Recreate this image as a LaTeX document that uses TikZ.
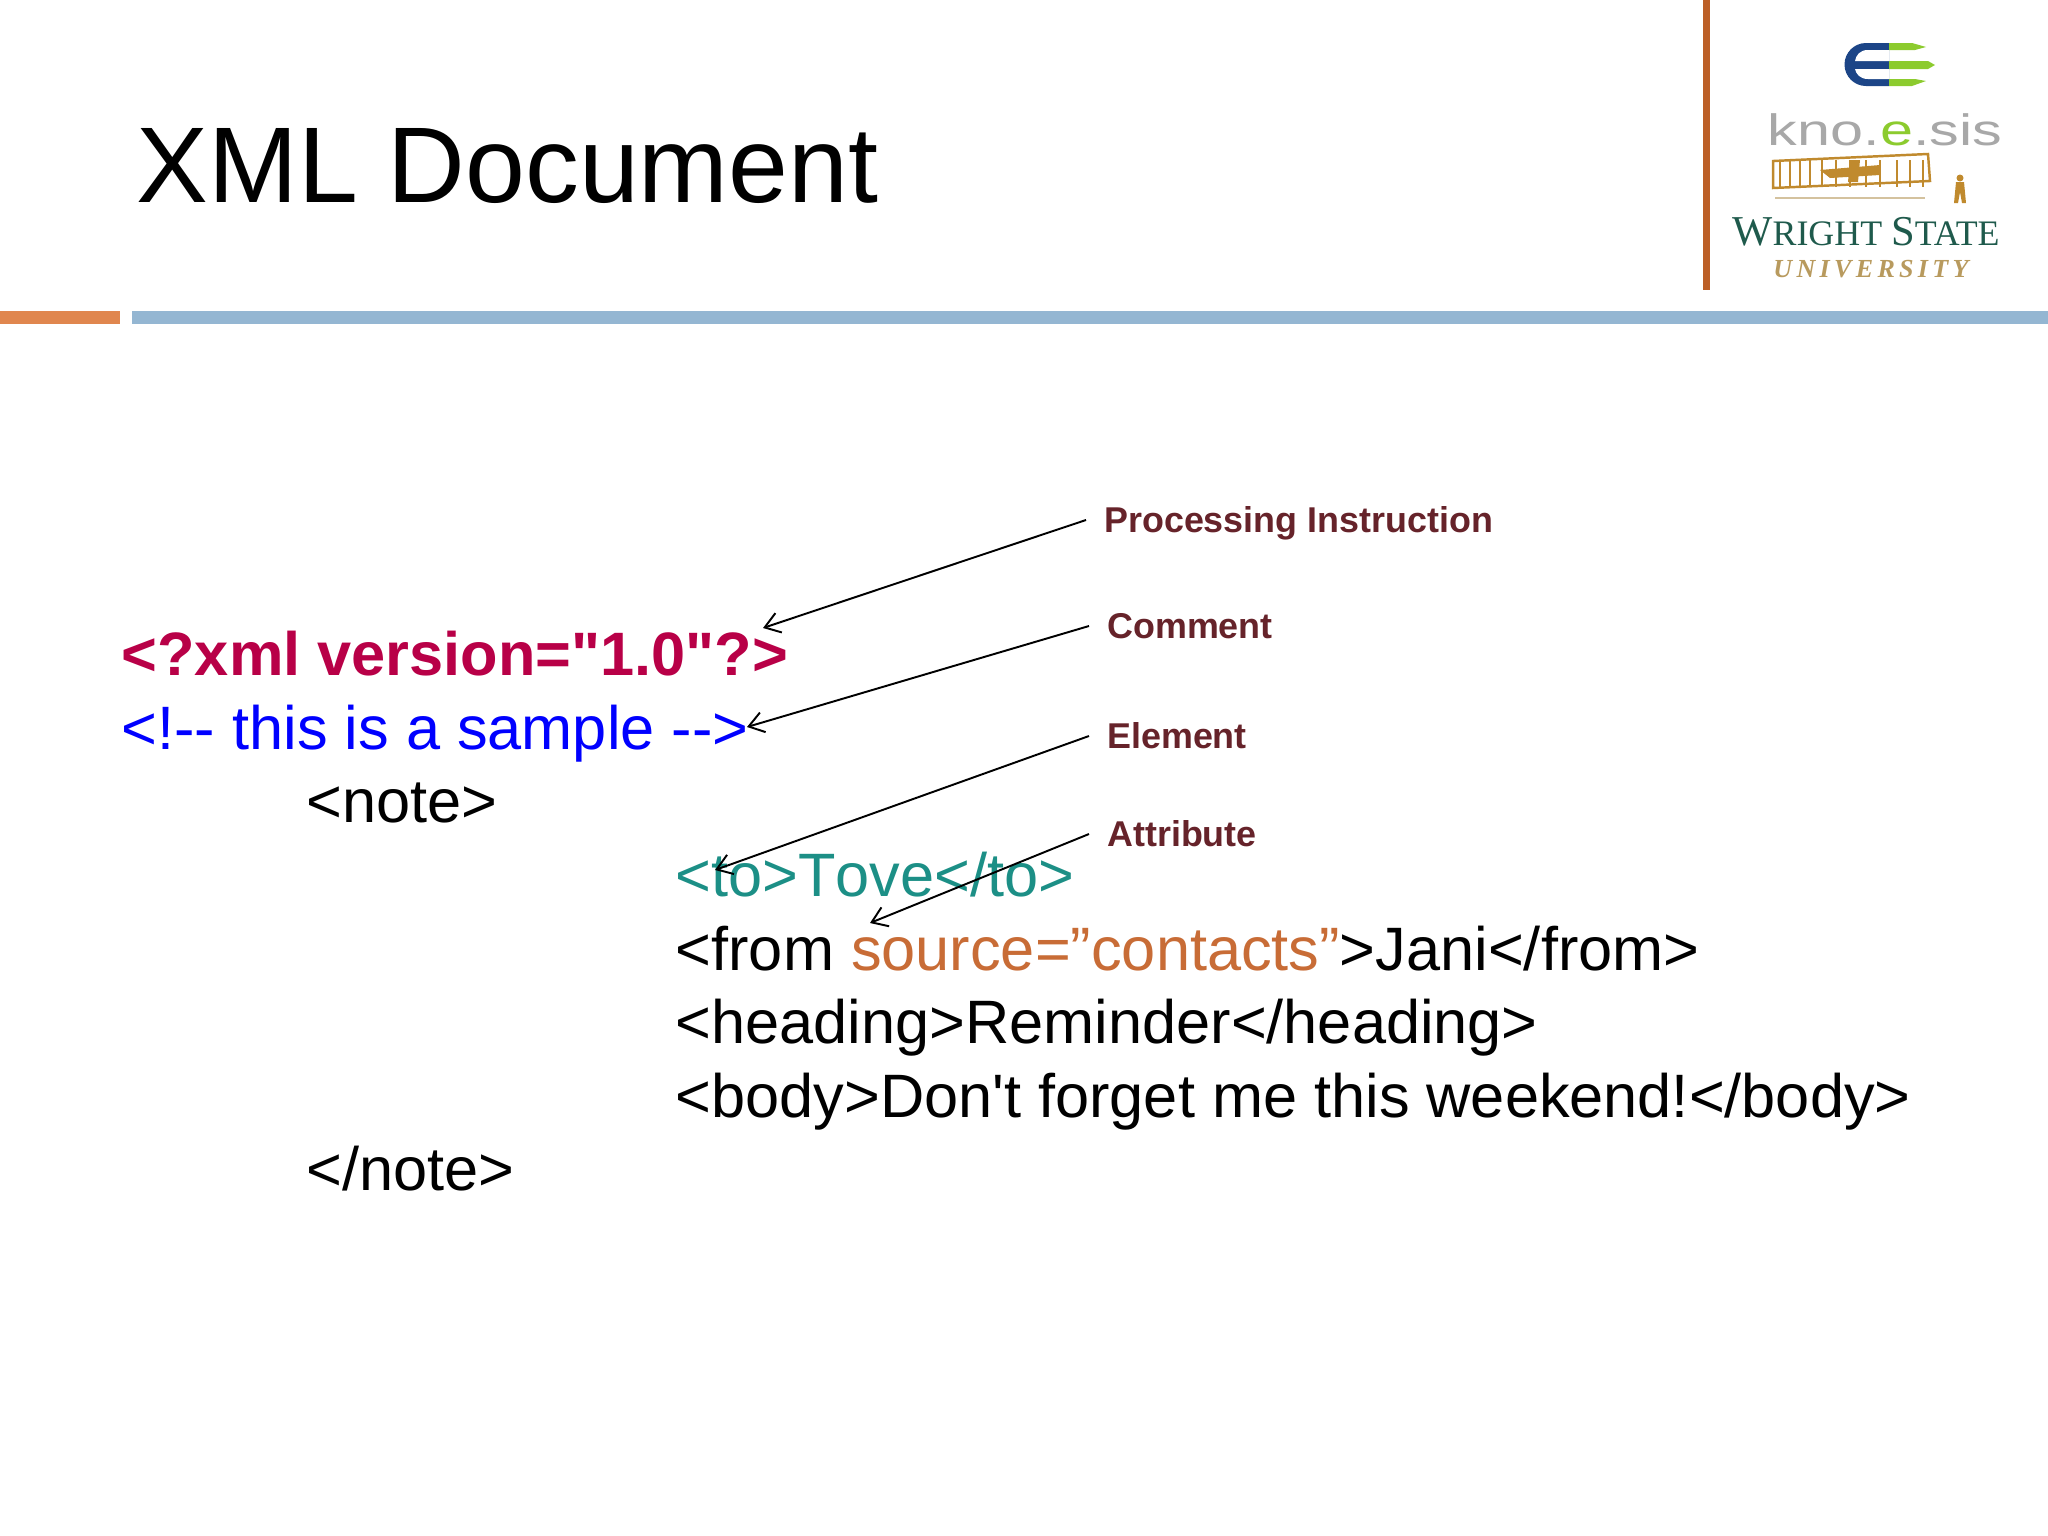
\documentclass[tikz,border=0pt]{standalone}
\usepackage{fontspec}
\setmainfont{Liberation Sans}
\newfontfamily\codeface[Kerning=Off]{Liberation Sans}
\newfontfamily\serifface{Liberation Serif}
\usetikzlibrary{arrows.meta}
\definecolor{ruleorange}{HTML}{E0864E}
\definecolor{ruleblue}{HTML}{94B6D2}
\definecolor{barorange}{HTML}{BC5F27}
\definecolor{pired}{HTML}{B80047}
\definecolor{elemteal}{HTML}{1C8F86}
\definecolor{attrorange}{HTML}{C86C36}
\definecolor{labelred}{HTML}{66232A}
\definecolor{logoblue}{HTML}{1C4587}
\definecolor{logogreen}{HTML}{8CCB2E}
\definecolor{logogray}{HTML}{A8A8A8}
\definecolor{planeochre}{HTML}{C08A2E}
\definecolor{wsugreen}{HTML}{1F5A4C}
\definecolor{wsugold}{HTML}{B89A5E}
\tikzset{%
  >={Straight Barb[length=4.2pt,width=5.8pt]},
  codeline/.style={anchor=base west,inner sep=0pt,font=\codeface\fontsize{17.43}{21}\selectfont},
  titletext/.style={anchor=base west,inner sep=0pt,font=\fontsize{30.6}{36}\selectfont},
  partlabel/.style={anchor=west,inner ysep=0pt,inner xsep=5pt,text=labelred,
    text height=8.7pt,text depth=0.25ex,font=\fontsize{10.2}{12}\selectfont\bfseries},
  partarrow/.style={->,line width=0.55pt,black}
}

\begin{document}
\begin{tikzpicture}[x=0.01cm,y=-0.01cm]
\useasboundingbox (0,0) rectangle (2048,1536);

%% some definitions

\def\xA{121} % left edge of the prolog
\def\xB{306} % note
\def\xC{675} % children of note

%% title and rules

\node[titletext] (title) at (136,202) {XML Document};
\fill[ruleorange] (0,311) rectangle (120,324);
\fill[ruleblue] (132,311) rectangle (2048,324);
\fill[barorange] (1703,0) rectangle (1710,290);

%% logo

\fill[logoblue] (1889,43) -- (1866,43) arc (-90:-270:21.5) -- (1889,86) -- cycle;
\fill[white] (1889,50) -- (1868,50) .. controls (1860,50) and (1856,55) .. (1855,61)
    -- (1889,61) -- cycle;
\fill[white] (1889,79) -- (1868,79) .. controls (1860,79) and (1856,74) .. (1855,69)
    -- (1889,69) -- cycle;
\fill[logogreen] (1889,43) -- (1912,43) -- (1926,47) -- (1915,50) -- (1889,50) -- cycle;
\fill[logogreen] (1889,61) -- (1928,61) -- (1935,65) -- (1928,69) -- (1889,69) -- cycle;
\fill[logogreen] (1889,79) -- (1915,79) -- (1926,81) -- (1912,86) -- (1889,86) -- cycle;
\node[anchor=base,inner sep=0pt,text=logogray,xscale=1.35,font=\fontsize{12.5}{14}\selectfont]
    (knoesis) at (1885,145) {kno.\textcolor{logogreen}{e}.sis};
% plane
\begin{scope}[planeochre,line width=0.7pt]
\draw (1773,161) -- (1928,154) -- (1930,181) -- (1773,188) -- cycle;
\foreach \x in {1780,1790,1800,1810,1822,1836,1850,1866,1880,1897,1910,1923}
  \draw[line width=0.45pt] (\x,160) -- (\x,187);
\fill (1820,170) -- (1880,165) -- (1880,175) -- (1830,178) -- cycle;
\fill (1850,160) -- (1860,160) -- (1858,182) -- (1848,182) -- cycle;
\draw[line width=0.4pt,wsugold!60] (1775,198) -- (1925,198);
\fill (1960,178) circle (3.5);
\fill (1956,182) -- (1964,182) -- (1966,203) -- (1962,203) -- (1960,192) -- (1958,203) -- (1954,203) -- cycle;
\end{scope}
\node[anchor=base,inner sep=0pt,text=wsugreen,font=\serifface\fontsize{12.1}{14}\selectfont]
    (wright) at (1866,245) {W\fontsize{10.2}{14}\selectfont RIGHT \fontsize{12.1}{14}\selectfont S\fontsize{10.2}{14}\selectfont TATE};
\node[anchor=base,inner sep=0pt,text=wsugold,font=\serifface\itshape\bfseries\fontsize{7.4}{10}\selectfont]
    (university) at (1871,277) {U\,N\,I\,V\,E\,R\,S\,I\,T\,Y};

%% code lines

\node[codeline,text=pired,font=\codeface\fontsize{17.43}{21}\selectfont\bfseries] (prolog) at (\xA,675) {<?xml version="1.0"?>};
\node[codeline,text=blue] (comment) at (\xA,749) {<!-- this is a sample -->};
\node[codeline] (noteopen) at (\xB,822) {<note>};
\node[codeline,text=elemteal] (to) at (\xC,896) {<to>Tove</to>};
\node[codeline] (from) at (\xC,970) {<from \textcolor{attrorange}{source=”contacts”}>Jani</from>};
\node[codeline] (heading) at (\xC,1043) {<heading>Reminder</heading>};
\node[codeline] (body) at (\xC,1117) {<body>Don't forget me this weekend!</body>};
\node[codeline] (noteclose) at (\xB,1190) {</note>};

%% labels and arrows

\node[partlabel] (lblpi) at (1086,520) {Processing Instruction};
\node[partlabel] (lblcomment) at (1089,626) {Comment};
\node[partlabel] (lblelement) at (1089,736) {Element};
\node[partlabel] (lblattr) at (1089,834) {Attribute};
\coordinate (tippi) at (763,628);
\coordinate (tipcomment) at (747,727);
\coordinate (tipelement) at (715,870);
\coordinate (tipattr) at (870,923);
\draw[partarrow] (lblpi.west) -- (tippi);
\draw[partarrow] (lblcomment.west) -- (tipcomment);
\draw[partarrow] (lblelement.west) -- (tipelement);
\draw[partarrow] (lblattr.west) -- (tipattr);
\end{tikzpicture}
\end{document}
